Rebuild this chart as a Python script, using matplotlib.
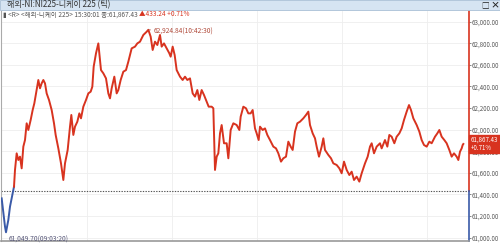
import matplotlib
matplotlib.use('Agg')
import matplotlib.pyplot as plt
from matplotlib.patches import Rectangle
import numpy as np

plt.rcParams['font.family'] = ['Noto Sans CJK KR', 'DejaVu Sans']

# 데이터 (틱 순번, 가격) - 그림에서 읽은 값
tick = [5, 15, 18, 25, 30, 38, 42, 45, 50, 55, 60, 65, 70, 75, 80, 85, 92, 98, 103, 110,
        115, 120, 125, 130, 135, 140, 147, 155, 162, 167, 175, 183, 190, 195, 203, 210, 214, 220, 225, 232,
        238, 243, 250, 258, 265, 272, 277, 281, 288, 295, 300, 303, 310, 318, 325, 330, 335, 343, 350, 355,
        362, 370, 378, 385, 395, 405, 412, 420, 430, 440, 445, 452, 458, 465, 472, 480, 485, 492, 500, 508,
        512, 518, 524, 530, 540, 548, 555, 562, 570, 578, 585, 592, 598, 605, 612, 618, 626, 635, 640, 645,
        650, 655, 660, 665, 672, 680, 685, 692, 700, 710, 718, 722, 730, 738, 745, 752, 758, 765, 770, 776,
        780, 788, 795, 802, 810, 820, 828, 835, 843, 850, 858, 865, 872, 878, 885, 892, 900, 910, 918, 925,
        930, 938, 945, 950, 957, 965, 970, 975, 985, 993, 1000, 1010, 1018, 1025, 1032, 1040, 1048, 1055, 1062, 1070,
        1078, 1085, 1095, 1103, 1110, 1115, 1122, 1130, 1140, 1145, 1155, 1162, 1168, 1175, 1183, 1190, 1198, 1205, 1212, 1220,
        1227, 1233, 1240, 1250, 1258, 1265, 1272, 1280, 1288, 1295, 1305, 1312, 1318, 1325, 1333, 1340, 1348, 1355, 1362, 1370,
        1375, 1380, 1385, 1388, 1390]
price = [61364, 61102, 61049.70, 61164, 61287, 61411, 61472, 61627, 61781, 61719, 61750, 61642, 61843, 61904, 62059, 61997, 62090, 62182, 62244, 62367,
         62460, 62383, 62429, 62460, 62429, 62336, 62275, 62182, 62059, 61951, 61827, 61688, 61534, 61688, 61812, 62028, 62136, 61951, 62028, 62074,
         62151, 62105, 62213, 62275, 62336, 62352, 62398, 62583, 62707, 62799, 62645, 62552, 62522, 62475, 62336, 62290, 62383, 62491, 62336, 62367,
         62460, 62537, 62552, 62630, 62753, 62769, 62799, 62815, 62877, 62907, 62924.84, 62861, 62738, 62815, 62784, 62877, 62769, 62799, 62753, 62707,
         62676, 62769, 62691, 62552, 62491, 62460, 62491, 62460, 62475, 62336, 62306, 62367, 62275, 62367, 62321, 62275, 62213, 62213, 62198, 61627,
         61750, 61781, 61966, 62043, 61874, 61874, 61735, 61997, 62059, 62043, 61997, 62120, 62213, 62198, 62151, 62151, 62182, 62012, 61966, 61904,
         62028, 61997, 62012, 61951, 61904, 61843, 61827, 61781, 61704, 61735, 61750, 61889, 61843, 61812, 61982, 62059, 62074, 62105, 62136, 62167,
         62043, 61966, 61920, 61843, 61750, 61843, 61920, 61812, 61766, 61735, 61688, 61673, 61642, 61596, 61704, 61627, 61580, 61611, 61534, 61565,
         61519, 61596, 61688, 61750, 61843, 61874, 61781, 61843, 61874, 61827, 61904, 61843, 61951, 61935, 61874, 61935, 61966, 62012, 62090, 62167,
         62228, 62182, 62105, 62043, 61982, 61904, 61858, 61843, 61889, 61874, 61935, 61966, 61997, 61935, 61904, 61874, 61812, 61750, 61781, 61750,
         61719, 61796, 61827, 61858, 61867.43]

prev_close = 61434.19
last = 61867.43
y_ticks = list(range(61000, 63001, 200))
grid_x = [261, 516, 771, 1026, 1281]

RED = '#d8331f'
BLUE = '#3a5aa8'

fig = plt.figure(figsize=(5, 2.45), dpi=100)
ax = fig.add_axes([1/500, 4/245, 468/500, 230/245])

# 기준선 아래(파랑) / 위(빨강)
n_blue = 7
ax.plot(tick[:n_blue], price[:n_blue], color=BLUE, lw=1.4, zorder=3)
ax.plot(tick[n_blue-1:], price[n_blue-1:], color=RED, lw=1.4, zorder=3)

ax.axhline(prev_close, color='#555555', lw=0.8, ls=(0, (1.2, 1.2)), zorder=2)

ax.set_xlim(3, 1407)
ax.set_ylim(60969, 63099)
ax.set_yticks(y_ticks)
ax.set_yticklabels([f'{v:,.2f}' for v in y_ticks])
ax.yaxis.tick_right()
ax.tick_params(axis='y', labelsize=4.4, colors='#555555', length=1.5, pad=0.5, width=0.5)
ax.set_xticks(grid_x)
ax.tick_params(axis='x', length=0, labelbottom=False)
ax.grid(True, color='#eeeeee', lw=0.6, zorder=0)

ax.spines['top'].set_visible(False)
ax.spines['right'].set_visible(False)
ax.spines['left'].set_color('#aaaaaa')
ax.spines['bottom'].set_color('#999999')
ax.spines['bottom'].set_linewidth(1.2)

# 오른쪽 축선 (기준가 위 빨강, 아래 파랑)
ytr = ax.get_yaxis_transform()
ax.plot([1, 1], [prev_close, 63099], transform=ytr, color=RED, lw=1.2, clip_on=False)
ax.plot([1, 1], [60969, prev_close], transform=ytr, color=BLUE, lw=1.2, clip_on=False)

# 최고/최저 표시
i_max = int(np.argmax(price))
i_min = int(np.argmin(price))
ax.annotate(f'{price[i_max]:,.2f}(10:42:30)', xy=(tick[i_max], price[i_max]),
            xytext=(tick[i_max] + 15, price[i_max] - 15), fontsize=4.8, color='#b04a3a',
            va='center', ha='left',
            arrowprops=dict(arrowstyle='-', color='#b04a3a', lw=0.5, shrinkA=0, shrinkB=0))
ax.annotate(f'{price[i_min]:,.2f}(09:03:20)', xy=(tick[i_min], price[i_min]),
            xytext=(tick[i_min] + 8, 60985), fontsize=4.8, color='#555577',
            va='center', ha='left',
            arrowprops=dict(arrowstyle='-', color='#555577', lw=0.5, shrinkA=0, shrinkB=0,
                            connectionstyle='angle,angleA=0,angleB=90,rad=0'))

# 현재가 박스 (61,800 라벨 위를 덮음)
ax.text(1.004, last, f'{last:,.2f}\n+0.71%', transform=ytr, fontsize=4.4, color='white',
        va='center', ha='left', linespacing=0.95, zorder=5,
        bbox=dict(boxstyle='square,pad=0.25', fc=RED, ec=RED))

# 상단 타이틀 바
fig.patches.append(Rectangle((0, 235/245), 1, 10/245, transform=fig.transFigure,
                             fc='#d6e4f2', ec='#a9bfd6', lw=0.6, zorder=0))
fig.text(7/500, 240/245, '해외-NI:NI225-니케이 225 (틱)', fontsize=5.8, color='#333333',
         va='center', ha='left')
fig.text(485/500, 240/245, '□', fontsize=5.5, color='#222222', va='center', ha='center')
fig.text(495/500, 240/245, '×', fontsize=6.5, color='#222222', va='center', ha='center',
         fontweight='bold')

# 정보 줄
t = fig.text(3/500, 230.5/245, '▮ <R> <해외-니케이 225> 15:30:01 종:61,867.43 ', fontsize=4.7,
             color='#555555', va='center', ha='left')
fig.canvas.draw()
bb = t.get_window_extent()
fig.text(bb.x1 / fig.bbox.width, 230.5/245, '▲433.24 +0.71%', fontsize=4.7, color=RED,
         va='center', ha='left')

fig.savefig('out.png', dpi=100)
